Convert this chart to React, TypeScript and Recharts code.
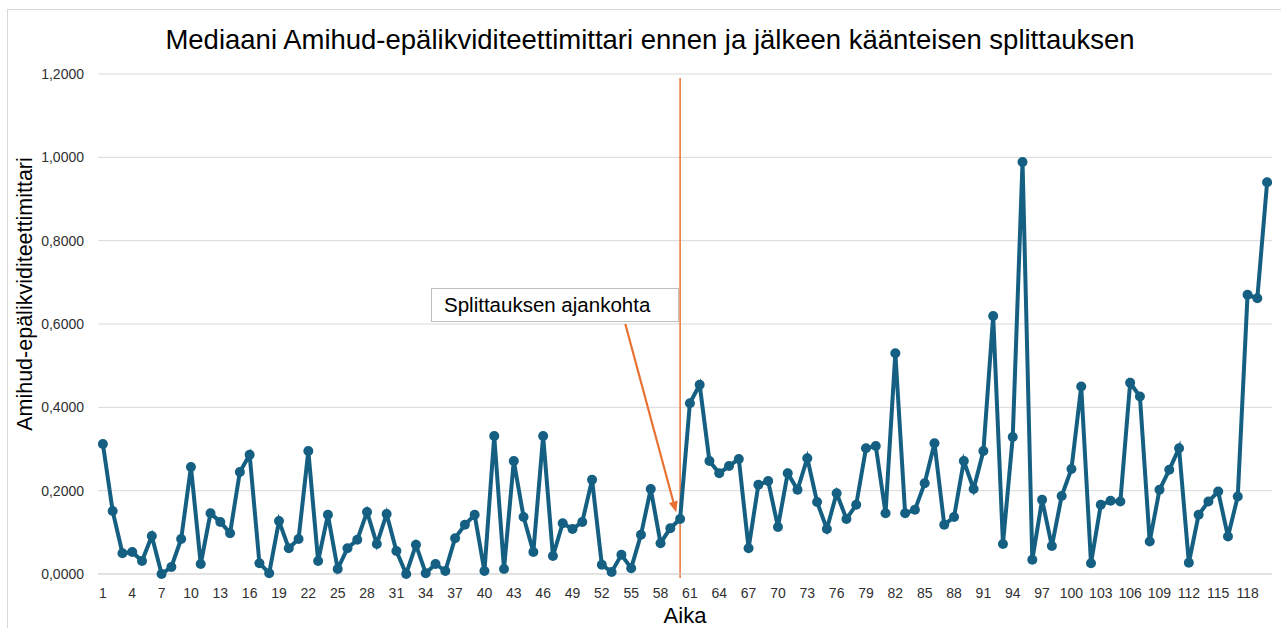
import React from 'react';
import { LineChart, Line, XAxis, YAxis, CartesianGrid, ReferenceLine } from 'recharts';

const periods: number[] = [
  1, 2, 3, 4, 5, 6, 7, 8, 9, 10, 11, 12, 13, 14, 15, 16, 17, 18, 19, 20,
  21, 22, 23, 24, 25, 26, 27, 28, 29, 30, 31, 32, 33, 34, 35, 36, 37, 38, 39, 40,
  41, 42, 43, 44, 45, 46, 47, 48, 49, 50, 51, 52, 53, 54, 55, 56, 57, 58, 59, 60,
  61, 62, 63, 64, 65, 66, 67, 68, 69, 70, 71, 72, 73, 74, 75, 76, 77, 78, 79, 80,
  81, 82, 83, 84, 85, 86, 87, 88, 89, 90, 91, 92, 93, 94, 95, 96, 97, 98, 99, 100,
  101, 102, 103, 104, 105, 106, 107, 108, 109, 110, 111, 112, 113, 114, 115, 116, 117, 118, 119, 120,
];

const medianAmihud: number[] = [
  0.312, 0.151, 0.050, 0.053, 0.031, 0.091, 0.000, 0.017, 0.084, 0.257,
  0.024, 0.146, 0.125, 0.098, 0.245, 0.286, 0.026, 0.002, 0.127, 0.062,
  0.084, 0.295, 0.031, 0.142, 0.012, 0.062, 0.082, 0.149, 0.072, 0.144,
  0.055, 0.000, 0.070, 0.002, 0.024, 0.007, 0.086, 0.118, 0.142, 0.007,
  0.331, 0.012, 0.271, 0.137, 0.053, 0.331, 0.043, 0.122, 0.108, 0.125,
  0.226, 0.022, 0.005, 0.046, 0.014, 0.094, 0.204, 0.074, 0.110, 0.132,
  0.410, 0.454, 0.271, 0.242, 0.259, 0.276, 0.062, 0.214, 0.223, 0.113,
  0.242, 0.202, 0.278, 0.173, 0.108, 0.194, 0.132, 0.166, 0.302, 0.307,
  0.146, 0.530, 0.146, 0.154, 0.218, 0.314, 0.118, 0.137, 0.271, 0.204,
  0.295, 0.619, 0.072, 0.329, 0.989, 0.034, 0.178, 0.067, 0.187, 0.252,
  0.450, 0.026, 0.166, 0.176, 0.174, 0.459, 0.426, 0.078, 0.202, 0.250,
  0.302, 0.027, 0.142, 0.174, 0.198, 0.090, 0.186, 0.670, 0.662, 0.940,
];

const xTicks: number[] = [
  1, 4, 7, 10, 13, 16, 19, 22, 25, 28, 31, 34, 37, 40, 43, 46, 49, 52, 55, 58,
  61, 64, 67, 70, 73, 76, 79, 82, 85, 88, 91, 94, 97, 100, 103, 106, 109, 112, 115, 118,
];
const yTicks: number[] = [0, 0.2, 0.4, 0.6, 0.8, 1.0, 1.2];

const splitPeriod = 60;
const arrowStart = { x: 54.4, y: 0.6 };
const arrowEnd = { x: 59.6, y: 0.148 };

const TITLE = 'Mediaani Amihud-epälikviditeettimittari ennen ja jälkeen käänteisen splittauksen';
const Y_LABEL = 'Amihud-epälikviditeettimittari';
const X_LABEL = 'Aika';
const ANNOTATION = 'Splittauksen ajankohta';

const data = periods.map((p, i) => ({ t: p, v: medianAmihud[i] }));

const LINE_COLOR = '#156082';
const ORANGE = '#E97132';
const FONT = '"Liberation Sans", Arial, sans-serif';
const TICK_COLOR = '#303030';

const ArrowShape = (props: any) => {
  const { x1, y1, x2, y2 } = props;
  if ([x1, y1, x2, y2].some((v) => typeof v !== 'number' || isNaN(v))) return null;
  const ang = Math.atan2(y2 - y1, x2 - x1);
  const len = 11;
  const half = 4.5;
  const bx = x2 - len * Math.cos(ang);
  const by = y2 - len * Math.sin(ang);
  const px = -Math.sin(ang);
  const py = Math.cos(ang);
  const pts = `${x2},${y2} ${bx + half * px},${by + half * py} ${bx - half * px},${by - half * py}`;
  return (
    <g>
      <line x1={x1} y1={y1} x2={bx} y2={by} stroke={ORANGE} strokeWidth={2.2} />
      <polygon points={pts} fill={ORANGE} />
    </g>
  );
};

export default function App() {
  return (
    <div
      style={{
        position: 'absolute',
        left: 0,
        top: 0,
        width: 1281,
        height: 628,
        background: '#fff',
        fontFamily: FONT,
        overflow: 'hidden',
      }}
    >
      <div
        style={{
          position: 'absolute',
          left: 7,
          top: 9,
          width: 1290,
          height: 640,
          border: '1px solid #d9d9d9',
          boxSizing: 'border-box',
        }}
      />
      <div style={{ position: 'absolute', left: 0, top: 0 }}>
        <LineChart
          width={1281}
          height={628}
          data={data}
          margin={{ top: 74, right: 9, left: 0, bottom: 24 }}
        >
          <CartesianGrid vertical={false} stroke="#d9d9d9" strokeWidth={1} />
          <XAxis
            dataKey="t"
            type="number"
            domain={[0.5, 120.5]}
            ticks={xTicks}
            interval={0}
            height={30}
            allowDataOverflow
            axisLine={{ stroke: '#d9d9d9', strokeWidth: 1 }}
            tickLine={false}
            tickSize={6}
            tickMargin={8}
            tick={{ fontSize: 14, fill: TICK_COLOR, fontFamily: FONT }}
          />
          <YAxis
            type="number"
            domain={[0, 1.2]}
            ticks={yTicks}
            interval={0}
            width={98}
            axisLine={false}
            tickLine={false}
            tickSize={6}
            tickMargin={8}
            tick={{ fontSize: 14, fill: TICK_COLOR, fontFamily: FONT }}
            tickFormatter={(v: number) => v.toFixed(4).replace('.', ',')}
          />
          <ReferenceLine
            segment={[
              { x: splitPeriod, y: 1.1904 },
              { x: splitPeriod, y: -0.0096 },
            ]}
            stroke={ORANGE}
            strokeWidth={1.5}
            ifOverflow="visible"
          />
          <Line
            dataKey="v"
            type="linear"
            stroke={LINE_COLOR}
            strokeWidth={4}
            dot={{ r: 5, fill: LINE_COLOR, stroke: LINE_COLOR, strokeWidth: 0 }}
            activeDot={false}
            isAnimationActive={false}
          />
          <ReferenceLine
            segment={[arrowStart, arrowEnd]}
            ifOverflow="visible"
            shape={ArrowShape}
          />
        </LineChart>
      </div>
      <div
        style={{
          position: 'absolute',
          left: 0,
          width: 1300,
          top: 21,
          textAlign: 'center',
          fontSize: 27.5,
          lineHeight: '38px',
          color: '#000',
          whiteSpace: 'nowrap',
        }}
      >
        {TITLE}
      </div>
      <div
        style={{
          position: 'absolute',
          left: 25 - 200,
          top: 294 - 15,
          width: 400,
          height: 30,
          lineHeight: '30px',
          textAlign: 'center',
          fontSize: 21.5,
          color: '#000',
          transform: 'rotate(-90deg)',
          whiteSpace: 'nowrap',
        }}
      >
        {Y_LABEL}
      </div>
      <div
        style={{
          position: 'absolute',
          left: 585,
          width: 200,
          top: 602,
          lineHeight: '28px',
          textAlign: 'center',
          fontSize: 22,
          color: '#000',
        }}
      >
        {X_LABEL}
      </div>
      <div
        style={{
          position: 'absolute',
          left: 431,
          top: 288,
          width: 248,
          height: 34,
          border: '1px solid #bfbfbf',
          boxSizing: 'border-box',
          background: '#fff',
          fontSize: 20.5,
          lineHeight: '32px',
          paddingLeft: 12,
          color: '#000',
          whiteSpace: 'nowrap',
        }}
      >
        {ANNOTATION}
      </div>
    </div>
  );
}
